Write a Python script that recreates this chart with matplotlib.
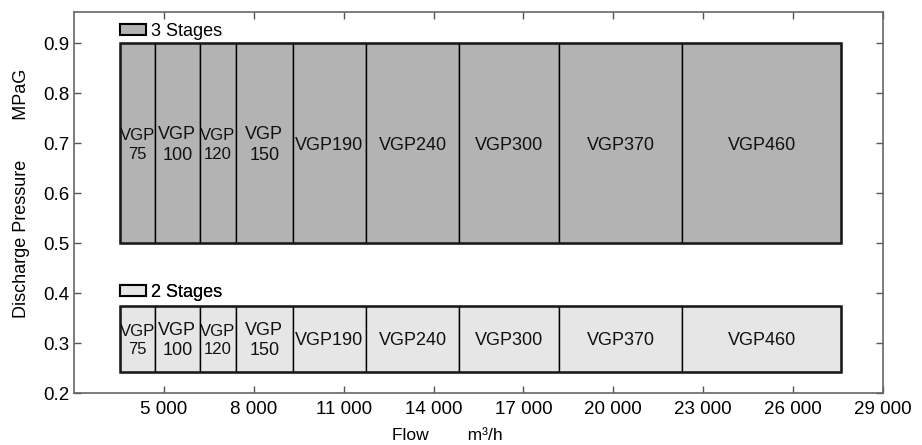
import matplotlib
matplotlib.use("Agg")
import matplotlib.pyplot as plt
from matplotlib.patches import Patch
from matplotlib.ticker import FuncFormatter

plt.rcParams['font.family'] = ['Liberation Sans', 'DejaVu Sans']

models = ['VGP\n75', 'VGP\n100', 'VGP\n120', 'VGP\n150', 'VGP190', 'VGP240', 'VGP300', 'VGP370', 'VGP460']
flow_edges = [3550, 4700, 6200, 7400, 9300, 11750, 14850, 18200, 22300, 27600]

stage_names = ['3 Stages', '2 Stages']
stage_low = [0.5, 0.243]
stage_high = [0.9, 0.375]
stage_colors = ['#b3b3b3', '#e6e6e6']
legend_y = [0.924, 0.401]

x_ticks = [5000, 8000, 11000, 14000, 17000, 20000, 23000, 26000, 29000]
y_ticks = [0.2, 0.3, 0.4, 0.5, 0.6, 0.7, 0.8, 0.9]

fig = plt.figure(figsize=(9.22, 4.45), dpi=100)
ax = fig.add_axes([74 / 922, 1 - 393 / 445, 809 / 922, 381 / 445])

lefts = flow_edges[:-1]
widths = [b - a for a, b in zip(flow_edges[:-1], flow_edges[1:])]

for s in range(len(stage_names)):
    h = stage_high[s] - stage_low[s]
    ax.bar(lefts, h, width=widths, bottom=stage_low[s], align='edge',
           color=stage_colors[s], edgecolor='black', linewidth=1.0, zorder=2)
    ax.bar(flow_edges[0], h, width=flow_edges[-1] - flow_edges[0], bottom=stage_low[s],
           align='edge', fill=False, edgecolor='#1a1a1a', linewidth=1.8, zorder=3)
    mid = (stage_high[s] + stage_low[s]) / 2
    for i, m in enumerate(models):
        cx = lefts[i] + widths[i] / 2
        fs = 12 if widths[i] < 1300 else 13
        ax.text(cx, mid - 0.004, m, ha='center', va='center', fontsize=fs,
                linespacing=1.3, color='#111111', zorder=4)
    leg = ax.legend(handles=[Patch(facecolor=stage_colors[s], edgecolor='black', linewidth=1.5,
                                   label=stage_names[s])],
                    loc='center left', bbox_to_anchor=(flow_edges[0], legend_y[s]),
                    bbox_transform=ax.transData, frameon=False, fontsize=13,
                    handlelength=1.4, handleheight=0.55, handletextpad=0.3,
                    borderpad=0, borderaxespad=0)
    ax.add_artist(leg)

ax.set_xlim(2000, 29000)
ax.set_ylim(0.2, 0.962)
ax.set_xticks(x_ticks)
ax.set_yticks(y_ticks)
ax.xaxis.set_major_formatter(FuncFormatter(lambda v, p: f'{int(v):,}'.replace(',', ' ')))
ax.yaxis.set_major_formatter(FuncFormatter(lambda v, p: f'{v:.1f}'))
ax.tick_params(direction='in', length=5, width=1, color='#555555', labelsize=13.5,
               top=True, right=True)
ax.tick_params(axis='x', pad=6)
ax.tick_params(axis='y', pad=3)
for sp in ax.spines.values():
    sp.set_color('#666666')
    sp.set_linewidth(1.2)

ax.set_xlabel('Flow        m³/h', fontsize=12.5)
ax.xaxis.set_label_coords((447 - 74) / 809, -(428 - 393) / 381)
ax.set_ylabel('Discharge Pressure        MPaG', fontsize=13)
ax.yaxis.set_label_coords(-(74 - 30) / 809, (393 - 193) / 381)

fig.savefig('out.png', dpi=100)
